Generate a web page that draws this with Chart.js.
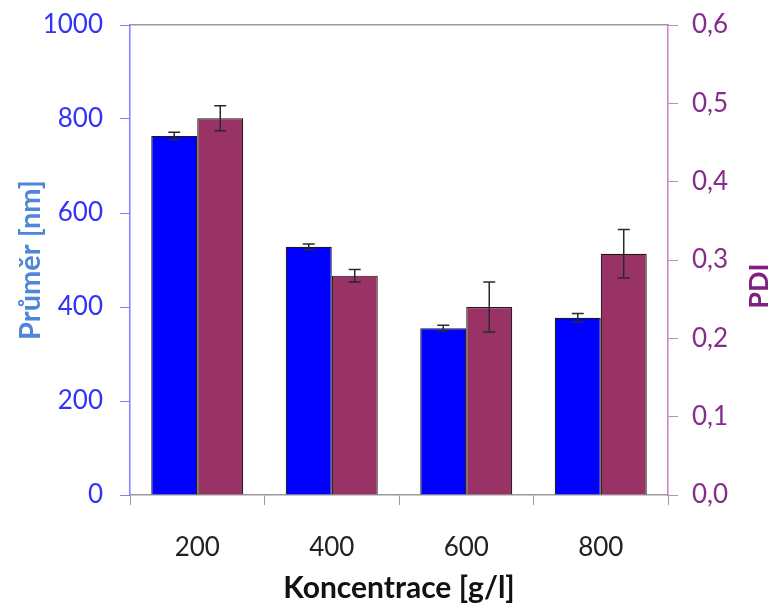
<!DOCTYPE html>
<html>
<head>
<meta charset="utf-8">
<script src="https://cdn.jsdelivr.net/npm/chart.js@4"></script>
<style>
  body { margin: 0; background: #fff; }
</style>
</head>
<body>
<canvas id="chart" width="775" height="608"></canvas>
<script>
const categories = ["200", "400", "600", "800"];
const prumer = [764, 528, 355, 377];
const prumerErr = [8, 6, 6, 9];
const pdi = [0.481, 0.280, 0.240, 0.308];
const pdiErr = [0.016, 0.008, 0.032, 0.031];

const FONT = "Lato, Carlito, Calibri, sans-serif";

const errorBars = {
  id: "errorBars",
  afterDatasetsDraw(chart) {
    const ctx = chart.ctx;
    ctx.save();
    ctx.strokeStyle = "#2a2a2a";
    ctx.lineWidth = 1.5;
    chart.data.datasets.forEach((ds, i) => {
      const meta = chart.getDatasetMeta(i);
      const scale = chart.scales[ds.yAxisID];
      meta.data.forEach((bar, j) => {
        const v = ds.data[j];
        const e = ds.errors[j];
        const y1 = scale.getPixelForValue(v + e);
        const y2 = scale.getPixelForValue(v - e);
        const x = bar.x;
        ctx.beginPath();
        ctx.moveTo(x, y1); ctx.lineTo(x, y2);
        ctx.moveTo(x - 6, y1); ctx.lineTo(x + 6, y1);
        ctx.moveTo(x - 6, y2); ctx.lineTo(x + 6, y2);
        ctx.stroke();
      });
    });
    ctx.restore();
  }
};

// right axis title reads bottom-to-top like the left one
const pdiTitle = {
  id: "pdiTitle",
  afterDraw(chart) {
    const ctx = chart.ctx;
    const area = chart.chartArea;
    ctx.save();
    ctx.translate(chart.width - 16, (area.top + area.bottom) / 2 + 26);
    ctx.rotate(-Math.PI / 2);
    ctx.font = "bold 27px " + FONT;
    ctx.fillStyle = "#80207f";
    ctx.textAlign = "center";
    ctx.textBaseline = "middle";
    ctx.fillText("PDI", 0, 0);
    ctx.restore();
  }
};

new Chart(document.getElementById("chart"), {
  type: "bar",
  data: {
    labels: categories,
    datasets: [
      {
        label: "Průměr [nm]",
        data: prumer,
        errors: prumerErr,
        yAxisID: "y",
        backgroundColor: "#0000ff",
        borderColor: "#1a1a1a",
        borderWidth: 1.2,
      },
      {
        label: "PDI",
        data: pdi,
        errors: pdiErr,
        yAxisID: "y1",
        backgroundColor: "#993366",
        borderColor: "#1a1a1a",
        borderWidth: 1.2,
      },
    ],
  },
  options: {
    responsive: false,
    animation: false,
    categoryPercentage: 0.684,
    barPercentage: 1,
    layout: { padding: { left: 9, top: 25, right: 0, bottom: 0 } },
    plugins: {
      legend: { display: false },
      tooltip: { enabled: false },
    },
    scales: {
      x: {
        position: "bottom",
        grid: { drawOnChartArea: false, tickLength: 10, color: "#999", offset: true },
        border: { color: "#999", width: 1.5 },
        ticks: { color: "#222", padding: 27, font: { family: FONT, size: 26 } },
        title: {
          display: true,
          text: "Koncentrace [g/l]",
          color: "#111",
          font: { family: FONT, size: 30, weight: "bold", lineHeight: 1.05 },
        },
        afterFit(s) { s.height = 113; },
      },
      x2: {
        position: "top",
        labels: categories,
        grid: { display: false },
        ticks: { display: false },
        border: { color: "#999", width: 1.5 },
        afterFit(s) { s.height = 0; },
      },
      y: {
        position: "left",
        min: 0,
        max: 1000,
        ticks: {
          stepSize: 200,
          color: "#3333f8",
          padding: 17,
          font: { family: FONT, size: 26 },
          callback: (v) => String(v),
        },
        grid: { drawOnChartArea: false, tickLength: 10, color: "#7f7fff" },
        border: { color: "#7f7fff", width: 1.5 },
        title: {
          display: true,
          text: "Průměr [nm]",
          color: "#4f87d8",
          font: { family: FONT, size: 29, weight: "bold" },
        },
        afterFit(s) { s.width = 121; s.paddingTop = 0; s.paddingBottom = 0; },
      },
      y1: {
        position: "right",
        min: 0,
        max: 0.6,
        ticks: {
          stepSize: 0.1,
          color: "#852c8c",
          padding: 14,
          font: { family: FONT, size: 26 },
          callback: (v) => Number(v).toFixed(1).replace(".", ","),
        },
        grid: { drawOnChartArea: false, tickLength: 10, color: "#c77fcf" },
        border: { color: "#c77fcf", width: 1.5 },
        afterFit(s) { s.width = 107; s.paddingTop = 0; s.paddingBottom = 0; },
      },
    },
  },
  plugins: [errorBars, pdiTitle],
});
</script>
</body>
</html>
